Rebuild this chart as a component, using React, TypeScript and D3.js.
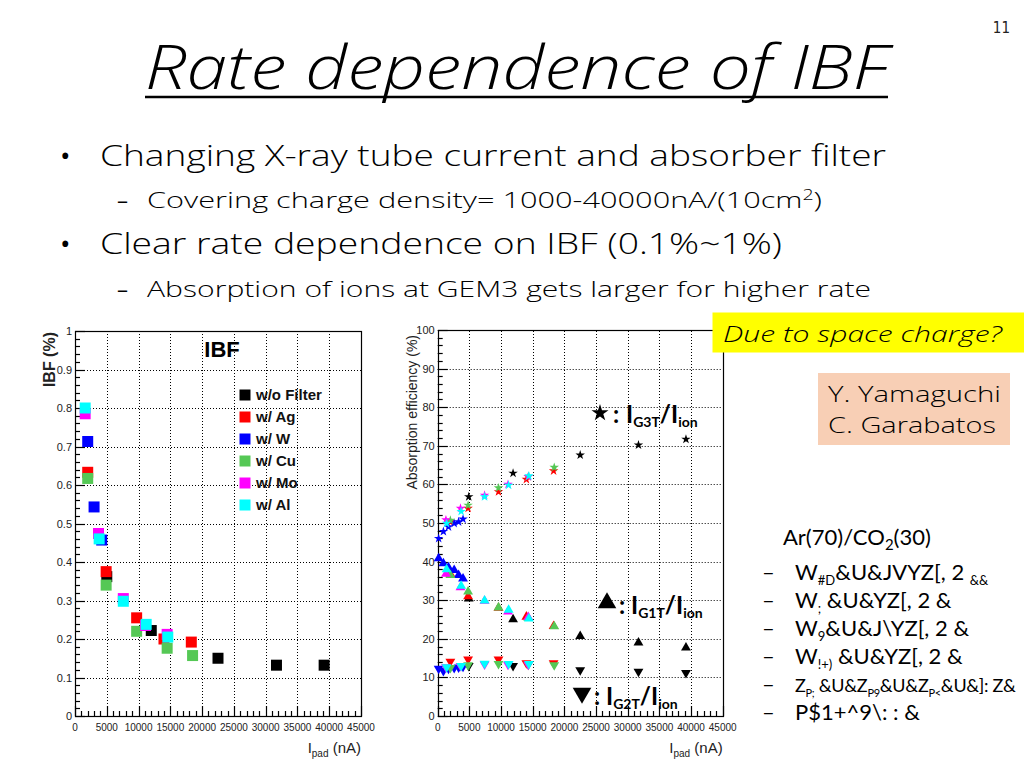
import React from "react";
import * as d3 from "d3";

// ---------- slide text ----------
const pageNumber = "11";
const titleText = "Rate dependence of IBF";
const bullet1 = "Changing X-ray tube current and absorber filter";
const sub1a = "Covering charge density= 1000-40000nA/(10cm";
const sub1sup = "2";
const sub1b = ")";
const bullet2 = "Clear rate dependence on IBF (0.1%~1%)";
const sub2 = "Absorption of ions at GEM3 gets larger for higher rate";
const noteText = "Due to space charge?";
const authors = ["Y. Yamaguchi", "C. Garabatos"];
const gasText = "Ar(70)/CO";
const gasSub = "2";
const gasTail = "(30)";
// garbled lines as they appear: [main, sub, main, sub, ...]
const garbledLines: string[][] = [
  ["W", "#D", "&U&JVYZ[, 2 ", "&&"],
  ["W", ";", " &U&YZ[, 2 &"],
  ["W", "9", "&U&J\\YZ[, 2 &"],
  ["W", "!+)", " &U&YZ[, 2 &"],
  ["Z", "P;", " &U&Z", "P9", "&U&Z", "P<", "&U&]: Z&"],
  ["P$1+^9\\: : &"],
];

// ---------- chart data ----------
const filterNames = ["w/o Filter", "w/ Ag", "w/ W", "w/ Cu", "w/ Mo", "w/ Al"];
const filterColors = ["#000000", "#ff0000", "#0000ff", "#55c855", "#ff00ff", "#00ffff"];

const xTickValues = [0, 5000, 10000, 15000, 20000, 25000, 30000, 35000, 40000, 45000];
const xTickLabels = ["0", "5000", "10000", "15000", "20000", "25000", "30000", "35000", "40000", "45000"];
const ibfTickValues = [0, 0.1, 0.2, 0.3, 0.4, 0.5, 0.6, 0.7, 0.8, 0.9, 1];
const ibfTickLabels = ["0", "0.1", "0.2", "0.3", "0.4", "0.5", "0.6", "0.7", "0.8", "0.9", "1"];
const absTickValues = [0, 10, 20, 30, 40, 50, 60, 70, 80, 90, 100];
const absTickLabels = ["0", "10", "20", "30", "40", "50", "60", "70", "80", "90", "100"];

// IBF (%) vs Ipad (nA)
const ibfX_noFilter = [5000, 12000, 22500, 31700, 39200];
const ibfY_noFilter = [0.362, 0.222, 0.15, 0.132, 0.132];
const ibfX_Ag = [2000, 4900, 9700, 14000, 18300];
const ibfY_Ag = [0.633, 0.375, 0.255, 0.2, 0.192];
const ibfX_W = [2000, 3000, 4200];
const ibfY_W = [0.713, 0.543, 0.457];
const ibfX_Cu = [2000, 4900, 9700, 14500, 18500];
const ibfY_Cu = [0.617, 0.34, 0.22, 0.176, 0.157];
const ibfX_Mo = [1600, 3700, 7600, 11100, 14500];
const ibfY_Mo = [0.785, 0.474, 0.305, 0.235, 0.212];
const ibfX_Al = [1600, 3800, 7600, 11200, 14600];
const ibfY_Al = [0.8, 0.46, 0.298, 0.238, 0.205];

// Absorption efficiency (%) vs Ipad (nA): G3T (stars), G1T (up), G2T (down)
const absX_noFilter = [4900, 11900, 22500, 31700, 39200];
const g3_noFilter = [56.8, 62.9, 67.6, 70.2, 71.7];
const g1_noFilter = [30.4, 25.0, 20.7, 19.0, 17.7];
const g2_noFilter = [13.0, 13.0, 11.9, 11.5, 11.2];
const absX_Ag = [2000, 4800, 9600, 14000, 18300];
const g3_Ag = [50.3, 53.8, 58.1, 61.3, 63.5];
const g1_Ag = [36.8, 31.0, 28.0, 25.7, 23.3];
const g2_Ag = [14.1, 14.7, 14.7, 13.7, 13.7];
const absX_W = [150, 900, 1700, 2600, 3300, 4000];
const g3_W = [46.0, 47.8, 49.0, 49.9, 50.3, 51.0];
const g1_W = [40.8, 39.5, 38.5, 37.8, 36.5, 35.6];
const g2_W = [12.3, 11.7, 12.3, 12.5, 12.6, 12.8];
const absX_Cu = [2000, 4800, 9600, 14300, 18400];
const g3_Cu = [50.7, 54.6, 59.1, 62.0, 64.4];
const g1_Cu = [36.5, 32.2, 28.1, 25.4, 23.2];
const g2_Cu = [12.5, 13.2, 13.5, 13.3, 13.2];
const absX_Mo = [1300, 3600, 7400, 11100, 14300];
const g3_Mo = [50.8, 53.8, 57.2, 60.0, 62.0];
const g1_Mo = [36.8, 33.3, 29.8, 27.0, 25.6];
const g2_Mo = [12.7, 13.0, 13.4, 13.3, 13.3];
const absX_Al = [1400, 3700, 7400, 11200, 14400];
const g3_Al = [49.9, 53.0, 56.8, 59.8, 62.2];
const g1_Al = [38.0, 33.7, 29.9, 27.5, 25.2];
const g2_Al = [12.7, 13.0, 13.6, 13.5, 13.5];

const ibfSeries = [
  { x: ibfX_noFilter, y: ibfY_noFilter },
  { x: ibfX_Ag, y: ibfY_Ag },
  { x: ibfX_W, y: ibfY_W },
  { x: ibfX_Cu, y: ibfY_Cu },
  { x: ibfX_Mo, y: ibfY_Mo },
  { x: ibfX_Al, y: ibfY_Al },
];
const absSeries = [
  { x: absX_noFilter, g3: g3_noFilter, g1: g1_noFilter, g2: g2_noFilter },
  { x: absX_Ag, g3: g3_Ag, g1: g1_Ag, g2: g2_Ag },
  { x: absX_W, g3: g3_W, g1: g1_W, g2: g2_W },
  { x: absX_Cu, g3: g3_Cu, g1: g1_Cu, g2: g2_Cu },
  { x: absX_Mo, g3: g3_Mo, g1: g1_Mo, g2: g2_Mo },
  { x: absX_Al, g3: g3_Al, g1: g1_Al, g2: g2_Al },
];

const rootFont = "'Liberation Sans', Arial, sans-serif";
const slideFont = "'Open Sans', 'DejaVu Sans', sans-serif";
const calFont = "Lato, 'Open Sans', sans-serif";

const squarePath = d3.symbol(d3.symbolSquare, 121)()!;
const starPath = d3.symbol(d3.symbolStar, 28)()!;
const triPath = d3.symbol(d3.symbolTriangle, 42)()!;
const bigStar = d3.symbol(d3.symbolStar, 90)()!;
const bigTri = d3.symbol(d3.symbolTriangle, 150)()!;

function Frame({ xs, ys, yVals, yLabels, yMinorStep }: any) {
  const [x0, x1] = xs.range();
  const [yb, yt] = ys.range();
  const px = (v: number) => Math.round(xs(v)) + 0.5;
  const py = (v: number) => Math.round(ys(v)) + 0.5;
  const xMinor = d3.range(0, 45001, 1000);
  const yMax = ys.domain()[1];
  const yMinor = d3.range(0, yMax + yMinorStep / 2, yMinorStep);
  return (
    <g>
      {xTickValues.slice(1, -1).map((v) => (
        <line key={"gx" + v} x1={px(v)} x2={px(v)} y1={yb} y2={yt} stroke="#000" strokeDasharray="1,2" strokeWidth={1} />
      ))}
      {yVals.slice(1, -1).map((v: number) => (
        <line key={"gy" + v} x1={x0} x2={x1} y1={py(v)} y2={py(v)} stroke="#000" strokeDasharray="1,2" strokeWidth={1} />
      ))}
      <rect x={Math.round(x0) + 0.5} y={Math.round(yt) + 0.5} width={Math.round(x1 - x0)} height={Math.round(yb - yt)} fill="none" stroke="#000" strokeWidth={1.2} />
      {xMinor.map((v) => (
        <line key={"tx" + v} x1={px(v)} x2={px(v)} y1={yb} y2={yb - (v % 5000 === 0 ? 10 : 5)} stroke="#000" strokeWidth={1.2} />
      ))}
      {yMinor.map((v: number, i: number) => (
        <line key={"ty" + i} x1={x0} x2={x0 + (i % 5 === 0 ? 10 : 5)} y1={py(v)} y2={py(v)} stroke="#000" strokeWidth={1.2} />
      ))}
      {xTickValues.map((v, i) => (
        <text key={"lx" + v} x={xs(v)} y={yb + 15} textAnchor="middle" fontFamily={rootFont} fontSize={10} fill="#222">
          {xTickLabels[i]}
        </text>
      ))}
      {yVals.map((v: number, i: number) => (
        <text key={"ly" + v} x={x0 - 3} y={ys(v) + 4} textAnchor="end" fontFamily={rootFont} fontSize={11} fill="#222">
          {yLabels[i]}
        </text>
      ))}
      <text x={x1} y={753} textAnchor="end" fontFamily={rootFont} fontSize={15} fill="#222">
        I<tspan fontSize={10} dy={4}>pad</tspan>
        <tspan fontSize={15} dy={-4}> (nA)</tspan>
      </text>
    </g>
  );
}

function IbfChart() {
  const xs = d3.scaleLinear().domain([0, 45000]).range([75, 361]);
  const ys = d3.scaleLinear().domain([0, 1]).range([716, 331]);
  return (
    <g>
      <Frame xs={xs} ys={ys} yVals={ibfTickValues} yLabels={ibfTickLabels} yMinorStep={0.02} />
      <text transform="translate(55,332) rotate(-90)" textAnchor="end" fontFamily={rootFont} fontSize={16} fontWeight="bold" fill="#222">
        IBF (%)
      </text>
      <text x={222} y={357} textAnchor="middle" fontFamily={rootFont} fontSize={22} fontWeight="bold" fill="#000">
        IBF
      </text>
      {filterNames.map((n, i) => (
        <g key={n} transform={`translate(245,${395 + i * 22})`}>
          <path d={squarePath} fill={filterColors[i]} />
          <text x={11} y={5} fontFamily={rootFont} fontSize={15} fontWeight="bold" fill="#111">
            {n}
          </text>
        </g>
      ))}
      {ibfSeries.map((s, i) =>
        s.x.map((xv, j) => (
          <path key={i + "-" + j} d={squarePath} fill={filterColors[i]} transform={`translate(${xs(xv)},${ys(s.y[j])})`} />
        ))
      )}
    </g>
  );
}

function AbsChart() {
  const xs = d3.scaleLinear().domain([0, 45000]).range([437.7, 722.7]);
  const ys = d3.scaleLinear().domain([0, 100]).range([716, 330]);
  return (
    <g>
      <Frame xs={xs} ys={ys} yVals={absTickValues} yLabels={absTickLabels} yMinorStep={2} />
      <text transform="translate(417,335) rotate(-90)" textAnchor="end" fontFamily={rootFont} fontSize={14} fill="#222">
        Absorption efficiency (%)
      </text>
      {absSeries.map((s, i) => (
        <g key={"s" + i}>
          {s.x.map((xv, j) => (
            <path key={"a" + j} d={starPath} fill={filterColors[i]} transform={`translate(${xs(xv)},${ys(s.g3[j])})`} />
          ))}
          {s.x.map((xv, j) => (
            <path key={"b" + j} d={triPath} fill={filterColors[i]} transform={`translate(${xs(xv)},${ys(s.g1[j])})`} />
          ))}
          {s.x.map((xv, j) => (
            <path key={"c" + j} d={triPath} fill={filterColors[i]} transform={`translate(${xs(xv)},${ys(s.g2[j])}) rotate(180)`} />
          ))}
        </g>
      ))}
      {/* annotations */}
      <path d={bigStar} fill="#000" transform="translate(600,413)" />
      <text x={613} y={423} fontFamily={calFont} fontSize={24} fontWeight="bold">:</text>
      <text x={626} y={423} fontFamily={calFont} fontSize={24} fontWeight="bold">
        I<tspan fontSize={14} dy={4}>G3T</tspan>
        <tspan fontSize={24} dy={-4}>/I</tspan>
        <tspan fontSize={14} dy={4}>ion</tspan>
      </text>
      <path d={bigTri} fill="#000" transform="translate(607,603)" />
      <text x={619} y={614} fontFamily={calFont} fontSize={24} fontWeight="bold">:</text>
      <text x={631} y={614} fontFamily={calFont} fontSize={24} fontWeight="bold">
        I<tspan fontSize={14} dy={4}>G1T</tspan>
        <tspan fontSize={24} dy={-4}>/I</tspan>
        <tspan fontSize={14} dy={4}>ion</tspan>
      </text>
      <path d={bigTri} fill="#000" transform="translate(582,693) rotate(180)" />
      <text x={594} y={705} fontFamily={calFont} fontSize={24} fontWeight="bold">:</text>
      <text x={606} y={705} fontFamily={calFont} fontSize={24} fontWeight="bold">
        I<tspan fontSize={14} dy={4}>G2T</tspan>
        <tspan fontSize={24} dy={-4}>/I</tspan>
        <tspan fontSize={14} dy={4}>ion</tspan>
      </text>
    </g>
  );
}

export default function App() {
  return (
    <svg width={1024} height={768} style={{ position: "absolute", left: 0, top: 0, background: "#fff" }}>
      <rect x={0} y={0} width={1024} height={768} fill="#fff" />
      <text x={1010} y={33} textAnchor="end" fontFamily="'Liberation Sans Narrow','DejaVu Sans Condensed',sans-serif" fontSize={15} fill="#222">
        {pageNumber}
      </text>
      <text x={145} y={89} fontFamily={slideFont} fontStyle="italic" fontWeight={300} fontSize={60} textLength={743} lengthAdjust="spacingAndGlyphs" fill="#000">
        {titleText}
      </text>
      <line x1={145} x2={888} y1={97} y2={97} stroke="#000" strokeWidth={2.5} />

      <text x={60} y={166} fontFamily={slideFont} fontSize={28}>•</text>
      <text x={100} y={166} fontFamily={slideFont} fontWeight={300} fontSize={30} textLength={786} lengthAdjust="spacingAndGlyphs">{bullet1}</text>
      <text x={117} y={208} fontFamily={slideFont} fontSize={22}>–</text>
      <text x={147} y={208} fontFamily={slideFont} fontWeight={300} fontSize={22} textLength={675} lengthAdjust="spacingAndGlyphs">
        {sub1a}
        <tspan fontSize={14} dy={-8}>{sub1sup}</tspan>
        <tspan fontSize={22} dy={8}>{sub1b}</tspan>
      </text>
      <text x={60} y={254} fontFamily={slideFont} fontSize={28}>•</text>
      <text x={100} y={254} fontFamily={slideFont} fontWeight={300} fontSize={30} textLength={682} lengthAdjust="spacingAndGlyphs">{bullet2}</text>
      <text x={117} y={297} fontFamily={slideFont} fontSize={22}>–</text>
      <text x={147} y={297} fontFamily={slideFont} fontWeight={300} fontSize={22} textLength={724} lengthAdjust="spacingAndGlyphs">{sub2}</text>

      <IbfChart />
      <AbsChart />

      <rect x={712.5} y={312.5} width={312} height={40} fill="#ffff00" />
      <text x={723} y={342} fontFamily={slideFont} fontStyle="italic" fontWeight={300} fontSize={22} textLength={279} lengthAdjust="spacingAndGlyphs">{noteText}</text>
      <rect x={818} y={373} width={192} height={72} fill="#f8cfb5" />
      {authors.map((a, i) => (
        <text key={a} x={828} y={402 + i * 31} fontFamily={slideFont} fontWeight={300} fontSize={22} textLength={i === 0 ? 173 : 168} lengthAdjust="spacingAndGlyphs">{a}</text>
      ))}

      <text x={783} y={545} fontFamily={calFont} fontSize={22}>
        {gasText}
        <tspan fontSize={15} dy={5}>{gasSub}</tspan>
        <tspan fontSize={22} dy={-5}>{gasTail}</tspan>
      </text>
      {garbledLines.map((parts, i) => {
        const main = i === 4 ? 18 : 22;
        const sub = i === 4 ? 11 : 13;
        return (
          <g key={"gl" + i}>
            <text x={762} y={580 + i * 28} fontFamily={calFont} fontSize={22}>–</text>
            <text x={795} y={580 + i * 28} fontFamily={calFont} fontSize={main} letterSpacing={i === 4 ? -0.3 : 0}>
              {parts.map((p, k) =>
                k % 2 === 0 ? (
                  <tspan key={k} fontSize={main} dy={k === 0 ? 0 : -5}>{p}</tspan>
                ) : (
                  <tspan key={k} fontSize={sub} dy={5}>{p}</tspan>
                )
              )}
            </text>
          </g>
        );
      })}
    </svg>
  );
}
